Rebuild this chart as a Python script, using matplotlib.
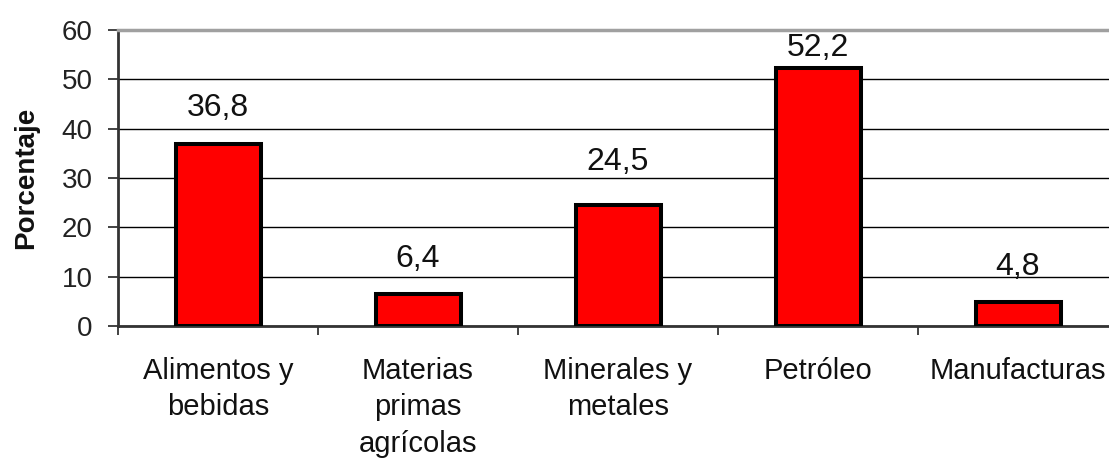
import matplotlib
matplotlib.use("Agg")
import matplotlib.pyplot as plt
import numpy as np

# Data
categories = ["Alimentos y\nbebidas", "Materias\nprimas\nagrícolas",
              "Minerales y\nmetales", "Petróleo", "Manufacturas"]
values = [36.8, 6.4, 24.5, 52.2, 4.8]
value_labels = ["36,8", "6,4", "24,5", "52,2", "4,8"]
y_ticks = [0, 10, 20, 30, 40, 50, 60]

# Gap (in pixels) between each bar top and its value label baseline
label_gaps = [28, 27, 35, 12, 27]

plt.rcParams["font.family"] = ["Liberation Sans", "DejaVu Sans"]

fig = plt.figure(figsize=(11.09, 4.62), dpi=100)
ax = fig.add_axes([118 / 1109, 136 / 462, 1000 / 1109, 296 / 462])

x = np.arange(len(categories))
bars = ax.bar(x, values, width=0.425, color="#ff0000", edgecolor="black",
              linewidth=2.9, zorder=3)

for xi, v, lab, gap in zip(x, values, value_labels, label_gaps):
    ax.annotate(lab, (xi, v), xytext=(0, gap), textcoords="offset pixels",
                ha="center", va="baseline", fontsize=23, color="#111111",
                zorder=4)

ax.set_xlim(-0.5, len(categories) - 0.5)
ax.set_ylim(0, 60)

# y axis
ax.set_yticks(y_ticks)
ax.tick_params(axis="y", direction="out", length=7.2, width=1.2,
               colors="#222222", labelsize=20, pad=11)
ax.yaxis.grid(True, color="black", linewidth=1.0)
ax.set_axisbelow(True)

# x axis: boundary ticks and centred category labels
ax.set_xticks(np.arange(-0.5, len(categories), 1.0))
ax.set_xticklabels([])
ax.tick_params(axis="x", which="major", direction="out", length=6.5,
               width=1.2, colors="#222222")
ax.set_xticks(x, minor=True)
ax.set_xticklabels(categories, minor=True, fontsize=21, color="#111111",
                   linespacing=1.4)
ax.tick_params(axis="x", which="minor", length=0, pad=22)

for side in ("left", "bottom"):
    ax.spines[side].set_color("#333333")
    ax.spines[side].set_linewidth(2.0)
ax.spines["top"].set_color("#a0a0a0")
ax.spines["top"].set_linewidth(2.5)
ax.spines["right"].set_visible(False)

ax.set_ylabel("Porcentaje", fontsize=20, fontweight="bold", color="#111111")
ax.yaxis.set_label_coords(-0.079, 0.5)

fig.savefig("out.png", dpi=100)
